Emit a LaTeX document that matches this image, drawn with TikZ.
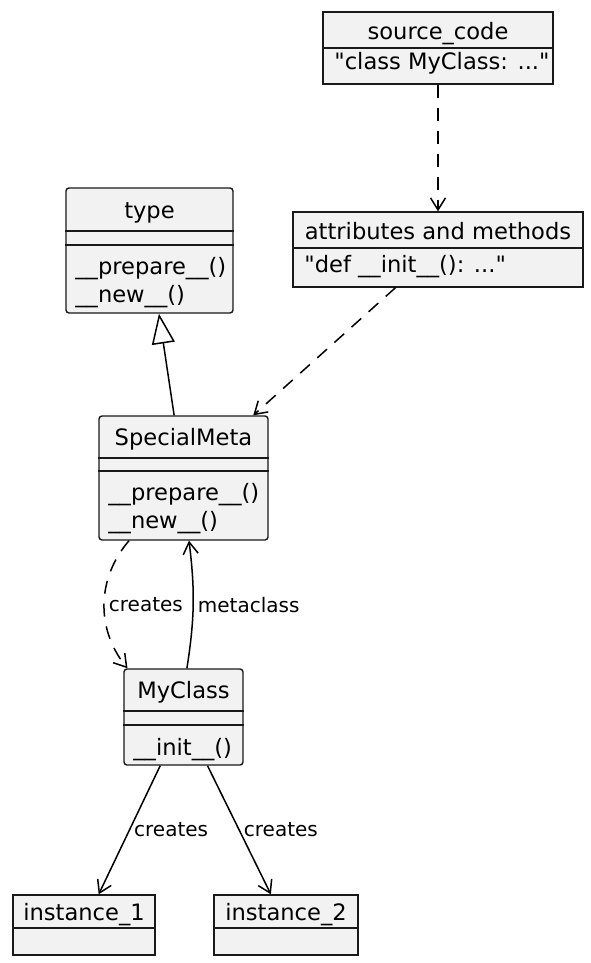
\documentclass[tikz,border=0pt]{standalone}
\usepackage{fontspec}
\setmainfont{DejaVu Sans}[Ligatures=TeXOff]
\usetikzlibrary{arrows.meta}

\tikzset{
    classbox/.style={draw=black!90, fill=gray!10, line width=0.7pt, rounded corners=1.5pt, inner sep=0pt},
    objbox/.style={draw=black!90, fill=gray!10, line width=0.7pt, inner sep=0pt},
    sepline/.style={draw=black!90, line width=0.7pt},
    title/.style={anchor=base, inner sep=0pt, font=\fontsize{11.3}{14}\selectfont},
    member/.style={anchor=base west, inner sep=0pt, font=\fontsize{11.3}{14}\selectfont},
    lbl/.style={inner sep=2pt, font=\fontsize{10}{12}\selectfont},
    dep/.style={line width=0.75pt, dash pattern=on 6.5pt off 5pt, -{Straight Barb[length=6pt,width=7.5pt]}},
    assoc/.style={line width=0.75pt, -{Straight Barb[length=6pt,width=7.5pt]}},
    inherit/.style={line width=0.75pt, -{Triangle[open,length=15pt,width=11.5pt]}},
}

\begin{document}
\begin{tikzpicture}[x=0.5pt, y=-0.5pt]
    \useasboundingbox (0,0) rectangle (590,963);

    % source code object
    \node[objbox, minimum width=115pt, minimum height=36pt] (src) at (438,48) {};
    \draw[sepline] (src.west |- 0,48) -- (src.east |- 0,48);
    \node[title] (src-name) at (438,40) {source\_code};
    \node[member] (src-val) at (334,70) {"class MyClass: ..."};

    % attributes and methods object
    \node[objbox, minimum width=145pt, minimum height=37.5pt] (attr) at (438,249.5) {};
    \draw[sepline] (attr.west |- 0,248) -- (attr.east |- 0,248);
    \node[title] (attr-name) at (438,239) {attributes and methods};
    \node[member] (attr-val) at (304,272) {"def \_\_init\_\_(): ..."};

    % type
    \node[classbox, minimum width=83.5pt, minimum height=62.5pt] (type) at (149.5,250.5) {};
    \draw[sepline] (type.west |- 0,231) -- (type.east |- 0,231);
    \draw[sepline] (type.west |- 0,245) -- (type.east |- 0,245);
    \node[title] (type-name) at (149.5,218) {type};
    \node[member] (type-m1) at (75,274) {\_\_prepare\_\_()};
    \node[member] (type-m2) at (75,302) {\_\_new\_\_()};

    % SpecialMeta
    \node[classbox, minimum width=84.5pt, minimum height=62pt] (meta) at (183.5,478) {};
    \draw[sepline] (meta.west |- 0,458) -- (meta.east |- 0,458);
    \draw[sepline] (meta.west |- 0,471) -- (meta.east |- 0,471);
    \node[title] (meta-name) at (183.5,445) {SpecialMeta};
    \node[member] (meta-m1) at (108,500) {\_\_prepare\_\_()};
    \node[member] (meta-m2) at (108,528) {\_\_new\_\_()};

    % MyClass
    \node[classbox, minimum width=59.5pt, minimum height=48pt] (myc) at (183.5,717) {};
    \draw[sepline] (myc.west |- 0,711) -- (myc.east |- 0,711);
    \draw[sepline] (myc.west |- 0,725) -- (myc.east |- 0,725);
    \node[title] (myc-name) at (183.5,698) {MyClass};
    \node[member] (myc-m1) at (133,755) {\_\_init\_\_()};

    % instances
    \node[objbox, minimum width=71pt, minimum height=30pt] (inst1) at (84,925) {};
    \draw[sepline] (inst1.west |- 0,928) -- (inst1.east |- 0,928);
    \node[title] (inst1-name) at (84,920) {instance\_1};
    \node[objbox, minimum width=72pt, minimum height=30pt] (inst2) at (286,925) {};
    \draw[sepline] (inst2.west |- 0,928) -- (inst2.east |- 0,928);
    \node[title] (inst2-name) at (286,920) {instance\_2};

    % Connectors
    \draw[dep] (src) -- (attr);
    \draw[dep] (attr) -- (meta);
    \draw[inherit] (meta) -- (type);
    \draw[dep] (meta.229) to[bend right=40] node[lbl, right] {creates} (myc.139);
    \draw[assoc] (myc.86) to[bend right=8] node[lbl, right] {metaclass} (meta.275);
    \draw[assoc] (myc) -- node[lbl, right] {creates} (inst1);
    \draw[assoc] (myc) -- node[lbl, right] {creates} (inst2);

\end{tikzpicture}
\end{document}
